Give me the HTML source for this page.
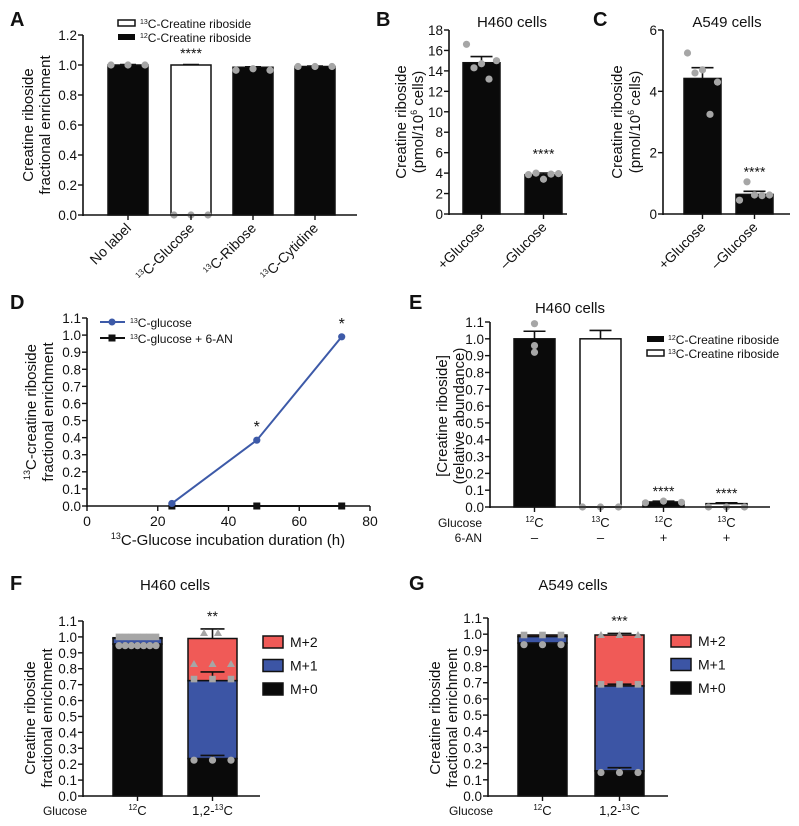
<!DOCTYPE html>
<html><head><meta charset="utf-8">
<style>
html,body{margin:0;padding:0;background:#fff;}
svg{display:block;font-family:"Liberation Sans",Arial,sans-serif;}
text{fill:#111;}
</style></head>
<body>
<svg id="fig" width="799" height="826" viewBox="0 0 799 826" xmlns="http://www.w3.org/2000/svg">
<text x="10" y="26" font-size="20" font-weight="bold">A</text>
<text x="376" y="26" font-size="20" font-weight="bold">B</text>
<text x="593" y="26" font-size="20" font-weight="bold">C</text>
<text x="10" y="309" font-size="20" font-weight="bold">D</text>
<text x="409" y="309" font-size="20" font-weight="bold">E</text>
<text x="10" y="590" font-size="20" font-weight="bold">F</text>
<text x="409" y="590" font-size="20" font-weight="bold">G</text>
<text x="512" y="27" font-size="15" text-anchor="middle">H460 cells</text>
<text x="727" y="27" font-size="15" text-anchor="middle">A549 cells</text>
<text x="570" y="313" font-size="15" text-anchor="middle">H460 cells</text>
<text x="175" y="590" font-size="15" text-anchor="middle">H460 cells</text>
<text x="573" y="590" font-size="15" text-anchor="middle">A549 cells</text>
<text transform="translate(33,125) rotate(-90)" font-size="15" text-anchor="middle">Creatine riboside</text>
<text transform="translate(50,125) rotate(-90)" font-size="15" text-anchor="middle">fractional enrichment</text>
<text transform="translate(406,122) rotate(-90)" font-size="15" text-anchor="middle">Creatine riboside</text>
<text transform="translate(423,122) rotate(-90)" font-size="15" text-anchor="middle">(pmol/10<tspan font-size="9" dy="-6">6</tspan><tspan dy="6"> cells)</tspan></text>
<text transform="translate(622,122) rotate(-90)" font-size="15" text-anchor="middle">Creatine riboside</text>
<text transform="translate(640,122) rotate(-90)" font-size="15" text-anchor="middle">(pmol/10<tspan font-size="9" dy="-6">6</tspan><tspan dy="6"> cells)</tspan></text>
<text transform="translate(36,412) rotate(-90)" font-size="15" text-anchor="middle"><tspan font-size="9" dy="-6">13</tspan><tspan dy="6">C-creatine riboside</tspan></text>
<text transform="translate(53,412) rotate(-90)" font-size="15" text-anchor="middle">fractional enrichment</text>
<text transform="translate(447,416) rotate(-90)" font-size="15" text-anchor="middle">[Creatine riboside]</text>
<text transform="translate(464,416) rotate(-90)" font-size="15" text-anchor="middle">(relative abundance)</text>
<text transform="translate(35,718) rotate(-90)" font-size="15" text-anchor="middle">Creatine riboside</text>
<text transform="translate(52,718) rotate(-90)" font-size="15" text-anchor="middle">fractional enrichment</text>
<text transform="translate(440,718) rotate(-90)" font-size="15" text-anchor="middle">Creatine riboside</text>
<text transform="translate(457,718) rotate(-90)" font-size="15" text-anchor="middle">fractional enrichment</text>
<text x="228" y="545" font-size="15" text-anchor="middle"><tspan font-size="9" dy="-6">13</tspan><tspan dy="6">C-Glucose incubation duration (h)</tspan></text>
<rect x="118" y="20" width="17" height="6" fill="#fff" stroke="#111" stroke-width="1.5"/>
<text x="140" y="28" font-size="12"><tspan font-size="7" dy="-4">13</tspan><tspan dy="4">C-Creatine riboside</tspan></text>
<rect x="118" y="34" width="17" height="6" fill="#0a0a0a"/>
<text x="140" y="42" font-size="12"><tspan font-size="7" dy="-4">12</tspan><tspan dy="4">C-Creatine riboside</tspan></text>
<line x1="100" y1="322" x2="125" y2="322" stroke="#3d5aa8" stroke-width="2"/>
<circle cx="112" cy="322" r="3.5" fill="#3d5aa8"/>
<text x="130" y="327" font-size="12"><tspan font-size="7" dy="-4">13</tspan><tspan dy="4">C-glucose</tspan></text>
<line x1="100" y1="338" x2="125" y2="338" stroke="#111" stroke-width="2"/>
<rect x="108.5" y="334.5" width="7" height="7" fill="#111"/>
<text x="130" y="343" font-size="12"><tspan font-size="7" dy="-4">13</tspan><tspan dy="4">C-glucose + 6-AN</tspan></text>
<rect x="647" y="336" width="17" height="6" fill="#0a0a0a"/>
<text x="668" y="344" font-size="12"><tspan font-size="7" dy="-4">12</tspan><tspan dy="4">C-Creatine riboside</tspan></text>
<rect x="647" y="350" width="17" height="6" fill="#fff" stroke="#111" stroke-width="1.5"/>
<text x="668" y="358" font-size="12"><tspan font-size="7" dy="-4">13</tspan><tspan dy="4">C-Creatine riboside</tspan></text>
<text x="482" y="527" font-size="12" text-anchor="end">Glucose</text>
<text x="482" y="542" font-size="12" text-anchor="end">6-AN</text>
<text x="87" y="815" font-size="12" text-anchor="end">Glucose</text>
<text x="493" y="815" font-size="12" text-anchor="end">Glucose</text>
<g id="marks"></g>
</svg>
<script>
// ---------- DATA ----------
const aCats = ['No label', 'Glucose', 'Ribose', 'Cytidine'];
const aVals = [1.0, 1.0, 0.985, 0.99];
const aFill = ['12C', '13C', '12C', '12C'];
const aPts = [[1.0, 1.0, 1.0], [0, 0, 0], [0.965, 0.975, 0.965], [0.99, 0.99, 0.99]];
const aYTicks = [0, 0.2, 0.4, 0.6, 0.8, 1.0, 1.2];

const bCats = ['+Glucose', '\u2013Glucose'];
const bVals = [14.8, 3.85];
const bErr = [0.6, 0.15];
const bPts = [[16.6, 14.3, 14.7, 13.2, 15.0], [3.85, 4.0, 3.4, 3.9, 3.95]];
const bYTicks = [0, 2, 4, 6, 8, 10, 12, 14, 16, 18];

const cCats = ['+Glucose', '\u2013Glucose'];
const cVals = [4.42, 0.64];
const cErr = [0.35, 0.1];
const cPts = [[5.25, 4.6, 4.7, 3.25, 4.3], [0.45, 1.05, 0.62, 0.6, 0.62]];
const cYTicks = [0, 2, 4, 6];

const dX = [24, 48, 72];
const dBlue = [0.015, 0.385, 0.99];
const dBlack = [0, 0, 0];
const dXTicks = [0, 20, 40, 60, 80];
const dYTicks = [0, 0.1, 0.2, 0.3, 0.4, 0.5, 0.6, 0.7, 0.8, 0.9, 1.0, 1.1];

const eGlucose = ['12', '13', '12', '13'];
const eAN = ['\u2013', '\u2013', '+', '+'];
const eVals = [1.0, 1.0, 0.03, 0.02];
const eErr = [0.045, 0.05, 0.005, 0.005];
const eFill = ['12C', '13C', '12C', '13C'];
const ePts = [[1.09, 0.96, 0.92], [0, 0, 0], [0.025, 0.035, 0.028], [0, 0, 0]];

const fracTicks = [0, 0.1, 0.2, 0.3, 0.4, 0.5, 0.6, 0.7, 0.8, 0.9, 1.0, 1.1];
const fM0 = [0.955, 0.235];
const fM1 = [0.035, 0.49];
const fM2 = [0.005, 0.265];
const fErrTop = [0.0, 0.06];
const gM0 = [0.945, 0.155];
const gM1 = [0.04, 0.525];
const gM2 = [0.01, 0.315];
const gErrTop = [0.0, 0.01];
const colors = {M2: '#f05a57', M1: '#3c55a5', M0: '#0a0a0a'};

// ---------- HELPERS ----------
const NS = 'http://www.w3.org/2000/svg';
const root = document.getElementById('marks');
function mk(tag, attrs) {
  const el = document.createElementNS(NS, tag);
  for (const k in attrs) el.setAttribute(k, attrs[k]);
  root.appendChild(el);
  return el;
}
function scale(d0, d1, r0, r1) { return v => r0 + (v - d0) / (d1 - d0) * (r1 - r0); }
function yAxis(x, sy, ticks, dec, id) {
  const ax = mk('line', {x1: x, x2: x, y1: sy(ticks[0]) + 1, y2: sy(ticks[ticks.length - 1]), stroke: '#111', 'stroke-width': 1.6});
  
  
  ticks.forEach(t => {
    const tk = mk('line', {x1: x - 5, x2: x, y1: sy(t), y2: sy(t), stroke: '#111', 'stroke-width': 1.4});
    
    
    const tl = mk('text', {x: x - 6, y: sy(t) + 5, 'font-size': 13.5, 'text-anchor': 'end'});
    tl.textContent = t.toFixed(dec);
    
    
  });
}
function xAxis(x0, x1, y, id) {
  const ax = mk('line', {x1: x0, x2: x1, y1: y, y2: y, stroke: '#111', 'stroke-width': 1.6});
  
  
}
function xTick(x, y, id) {
  const tk = mk('line', {x1: x, x2: x, y1: y, y2: y + 5, stroke: '#111', 'stroke-width': 1.4});
  
  
}
function bar(x, w, yTop, yBot, fill, id) {
  const r = mk('rect', {x: x, y: yTop, width: w, height: Math.max(0, yBot - yTop), fill: fill, stroke: '#111', 'stroke-width': 1.5});
  
  
}
function errBar(cx, y1, y2, hw, id) {
  const l = mk('path', {d: `M${cx},${y1}V${y2}M${cx - hw},${y2}H${cx + hw}`, stroke: '#111', 'stroke-width': 1.6, fill: 'none'});
  
  
}
function dot(cx, cy, id) {
  const c = mk('circle', {cx: cx, cy: cy, r: 3.6, fill: '#a6a6a6'});
  
  
}
function sq(cx, cy, id) {
  const c = mk('rect', {x: cx - 3.3, y: cy - 3.3, width: 6.6, height: 6.6, fill: '#a6a6a6'});
  
  
}
function tri(cx, cy, id) {
  const c = mk('path', {d: `M${cx},${cy - 4}L${cx + 4},${cy + 3}L${cx - 4},${cy + 3}Z`, fill: '#a6a6a6'});
  
  
}
function label(x, y, txt, size, anchor, id, rot) {
  const t = mk('text', {x: x, y: y, 'font-size': size, 'text-anchor': anchor || 'middle'});
  if (rot) t.setAttribute('transform', `rotate(${rot} ${x} ${y})`);
  t.innerHTML = txt;
  
  
  return t;
}
function sup(s) { return `<tspan font-size="8" dy="-5">${s}</tspan><tspan dy="5">C</tspan>`; }
function spread(cx, n, w) { const out = []; for (let i = 0; i < n; i++) out.push(n === 1 ? cx : cx - w / 2 + w * i / (n - 1)); return out; }

// ---------- PANEL A ----------
(function () {
  const sy = scale(0, 1.2, 215, 35), x0 = 83;
  const bx = [108, 171, 233, 295], bw = 40;
  aCats.forEach((c, i) => {
    bar(bx[i], bw, sy(aVals[i]), sy(0), aFill[i] === '12C' ? '#0a0a0a' : '#fff', 'a-' + i);
    errBar(bx[i] + bw / 2, sy(aVals[i]), sy(aVals[i] + 0.003), 8, 'a-' + i);
    spread(bx[i] + bw / 2, aPts[i].length, 34).forEach((px, j) => dot(px, sy(aPts[i][j]), 'a-' + i));
    xTick(bx[i] + bw / 2, sy(0), 'a');
    const txt = i === 0 ? c : `<tspan font-size="8" dy="-5">13</tspan><tspan dy="5">C-${c}</tspan>`;
    label(bx[i] + bw / 2 + 4, sy(0) + 14, txt, 14, 'end', 'x-tick-label-a', -45);
  });
  yAxis(x0, sy, aYTicks, 1, 'a');
  xAxis(x0, 357, sy(0), 'a');
  label(bx[1] + bw / 2, sy(1.0) - 7, '****', 14, 'middle', 'significance-a');
})();

// ---------- PANELS B, C ----------
function simpleBars(cats, vals, err, pts, ticks, x0, x1, y0, yT, bx, bw, id, fmt) {
  const sy = scale(ticks[0], ticks[ticks.length - 1], y0, yT);
  cats.forEach((c, i) => {
    bar(bx[i], bw, sy(vals[i]), sy(0), '#0a0a0a', id + '-' + i);
    errBar(bx[i] + bw / 2, sy(vals[i]), sy(vals[i] + err[i]), 11, id + '-' + i);
    spread(bx[i] + bw / 2, pts[i].length, 30).forEach((px, j) => dot(px, sy(pts[i][j]), id + '-' + i));
    xTick(bx[i] + bw / 2, sy(0), id);
    label(bx[i] + bw / 2 + 4, sy(0) + 14, c, 14, 'end', 'x-tick-label-' + id, -45);
  });
  yAxis(x0, sy, ticks, fmt, id);
  xAxis(x0, x1, sy(0), id);
  label(bx[1] + bw / 2, sy(vals[1] + err[1] + (ticks[ticks.length - 1] * 0.08)), '****', 14, 'middle', 'significance-' + id);
}
simpleBars(bCats, bVals, bErr, bPts, bYTicks, 449, 567, 214, 30, [463, 525], 37, 'b', 0);
simpleBars(cCats, cVals, cErr, cPts, cYTicks, 663, 790, 214, 30, [684, 736], 37, 'c', 0);

// ---------- PANEL D ----------
(function () {
  const sx = scale(0, 80, 87, 370), sy = scale(0, 1.1, 506, 318);
  yAxis(87, sy, dYTicks, 1, 'd');
  xAxis(87, 370, sy(0), 'd');
  dXTicks.forEach(t => { xTick(sx(t), sy(0), 'd'); label(sx(t), sy(0) + 20, String(t), 14, 'middle', 'x-tick-label-d'); });
  const lb = mk('path', {d: dX.map((x, i) => (i ? 'L' : 'M') + sx(x) + ',' + sy(dBlue[i])).join(''), stroke: '#3d5aa8', 'stroke-width': 2, fill: 'none'});
  
  
  const lk = mk('path', {d: dX.map((x, i) => (i ? 'L' : 'M') + sx(x) + ',' + sy(dBlack[i])).join(''), stroke: '#111', 'stroke-width': 2, fill: 'none'});
  
  
  dX.forEach((x, i) => {
    const s = mk('rect', {x: sx(x) - 3.5, y: sy(dBlack[i]) - 3.5, width: 7, height: 7, fill: '#111'});
    
    
    const c = mk('circle', {cx: sx(x), cy: sy(dBlue[i]), r: 3.6, fill: '#3d5aa8'});
    
    
    if (i > 0) label(sx(x), sy(dBlue[i]) - 8, '*', 16, 'middle', 'significance-d');
  });
})();

// ---------- PANEL E ----------
(function () {
  const sy = scale(0, 1.1, 507, 322);
  const bx = [514, 580, 643, 706], bw = 41;
  eVals.forEach((v, i) => {
    bar(bx[i], bw, sy(v), sy(0), eFill[i] === '12C' ? '#0a0a0a' : '#fff', 'e-' + i);
    errBar(bx[i] + bw / 2, sy(v), sy(v + eErr[i]), 11, 'e-' + i);
    spread(bx[i] + bw / 2, ePts[i].length, 36).forEach((px, j) => dot(i === 0 ? bx[i] + bw / 2 : px, sy(ePts[i][j]), 'e-' + i));
    xTick(bx[i] + bw / 2, sy(0), 'e');
    label(bx[i] + bw / 2, 527, sup(eGlucose[i]), 13, 'middle', 'glucose-label-e');
    label(bx[i] + bw / 2, 542, eAN[i], 13, 'middle', '6an-label-e');
    if (i >= 2) label(bx[i] + bw / 2, sy(v + eErr[i]) - 5, '****', 14, 'middle', 'significance-e');
  });
  yAxis(490, sy, dYTicks, 1, 'e');
  xAxis(490, 770, sy(0), 'e');
})();

// ---------- PANELS F, G ----------
function stacked(m0, m1, m2, errTop, x0, x1, y0, yT, bx, bw, id, stars, lx, ly) {
  const sy = scale(0, 1.1, y0, yT);
  m0.forEach((v, i) => {
    const t0 = m0[i], t1 = t0 + m1[i], t2 = t1 + m2[i];
    bar(bx[i], bw, sy(t2), sy(t1), colors.M2, id + '-m2-' + i);
    bar(bx[i], bw, sy(t1), sy(t0), colors.M1, id + '-m1-' + i);
    bar(bx[i], bw, sy(t0), sy(0), colors.M0, id + '-m0-' + i);
    const cx = bx[i] + bw / 2;
    if (errTop[i] > 0) {
      errBar(cx, sy(t2), sy(t2 + errTop[i]), 12, id + '-' + i);
      errBar(cx, sy(t1), sy(t1 + 0.055 * (id === 'f' ? 1 : 0.2)), 12, id + '-m1-' + i);
      errBar(cx, sy(t0), sy(t0 + 0.02), 12, id + '-m0-' + i);
    }
    const n = id === 'f' && i === 0 ? 7 : 3;
    spread(cx, n, bw - 12).forEach(px => { dot(px, sy(t0 - 0.01), id + '-m0'); sq(px, sy(t1 + 0.01), id + '-m1'); if (i === 1) tri(px, sy(t2 - (id === 'f' ? 0.16 : 0)), id + '-m2'); });
    xTick(cx, sy(0), id);
    const txt = i === 0 ? sup('12') : `1,2-<tspan font-size="8" dy="-5">13</tspan><tspan dy="5">C</tspan>`;
    label(cx, 815, txt, 13, 'middle', 'x-tick-label-' + id);
    if (i === 1) label(cx, sy(t2 + errTop[i]) - 8, stars, 14, 'middle', 'significance-' + id);
  });
  yAxis(x0, sy, fracTicks, 1, id);
  xAxis(x0, x1, sy(0), id);
  [['M2', 'M+2'], ['M1', 'M+1'], ['M0', 'M+0']].forEach((m, k) => {
    const r = mk('rect', {x: lx, y: ly + k * 23.5 - 6, width: 20, height: 12, fill: colors[m[0]], stroke: '#111', 'stroke-width': 1.5});
    
    
    label(lx + 27, ly + k * 23.5 + 5, m[1], 14, 'start', 'legend-label-' + id);
  });
}
stacked(fM0, fM1, fM2, fErrTop, 83, 260, 796, 621, [113, 188], 49, 'f', '**', 263, 642);
(function () { const s = scale(0, 1.1, 796, 621); tri(204, s(1.1) + 12, 'f-m2'); tri(218, s(1.1) + 12, 'f-m2'); })();
stacked(gM0, gM1, gM2, gErrTop, 488, 668, 796, 618, [518, 595], 49, 'g', '***', 671, 641);
</script>
</body></html>
